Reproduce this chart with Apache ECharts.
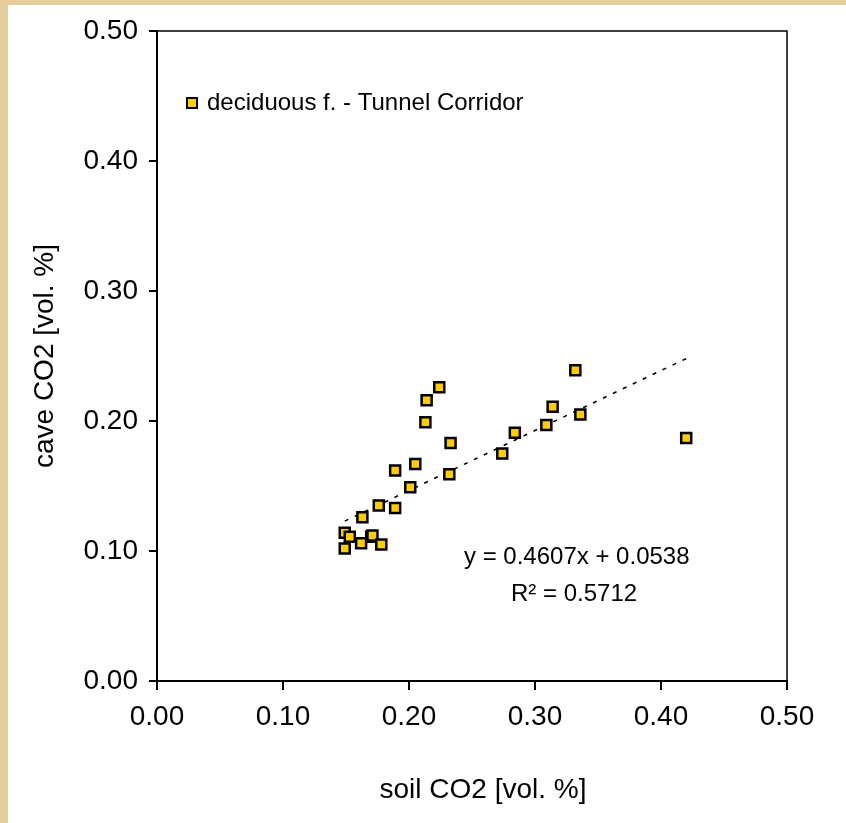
<!DOCTYPE html>
<html>
<head>
<meta charset="utf-8">
<script src="https://cdn.jsdelivr.net/npm/echarts@6/dist/echarts.min.js"></script>
<style>
  html, body { margin: 0; padding: 0; }
  body { width: 846px; height: 823px; background: #e6cd9c; position: relative; overflow: hidden; }
  #main { position: absolute; left: 8px; top: 5px; width: 838px; height: 818px; background: #ffffff; }
</style>
</head>
<body>
<div id="main"></div>
<script>
// soil CO2 vs cave CO2, vol. %
var soilCO2 = [0.149, 0.149, 0.153, 0.162, 0.170, 0.171, 0.178, 0.163, 0.176, 0.189,
               0.189, 0.201, 0.205, 0.213, 0.214, 0.224, 0.233, 0.232, 0.274, 0.284,
               0.309, 0.314, 0.336, 0.332, 0.420];
var caveCO2 = [0.102, 0.114, 0.111, 0.106, 0.111, 0.112, 0.105, 0.126, 0.135, 0.133,
               0.162, 0.149, 0.167, 0.199, 0.216, 0.226, 0.183, 0.159, 0.175, 0.191,
               0.197, 0.211, 0.205, 0.239, 0.187];
// ends of the linear trend line as drawn
var trendX = [0.149, 0.420];
var trendY = [0.123, 0.248];
var xTicks = ['0.00', '0.10', '0.20', '0.30', '0.40', '0.50'];
var yTicks = ['0.00', '0.10', '0.20', '0.30', '0.40', '0.50'];
var seriesName = 'deciduous f. - Tunnel Corridor';
var eqText = 'y = 0.4607x + 0.0538';
var r2Text = 'R² = 0.5712';

var fontFam = '"Liberation Sans", Arial, sans-serif';
var chart = echarts.init(document.getElementById('main'));

var pts = soilCO2.map(function (x, i) { return [x, caveCO2[i]]; });
var trend = trendX.map(function (x, i) { return [x, trendY[i]]; });

var option = {
    animation: false,
    grid: {
        left: 149, right: 59, top: 26, bottom: 142,
        show: true,
        borderColor: '#000',
        borderWidth: 1.5,
        backgroundColor: '#fff'
    },
    legend: {
        data: [seriesName],
        left: 173, top: 81,
        icon: 'rect',
        itemWidth: 10, itemHeight: 10,
        itemGap: 6,
        textStyle: { fontSize: 24, fontFamily: fontFam, color: '#000', padding: [0, 0, 0, 5] }
    },
    xAxis: {
        type: 'value',
        min: 0, max: 0.5, interval: 0.1,
        name: 'soil CO2 [vol. %]',
        nameLocation: 'middle',
        nameGap: 95,
        nameTextStyle: { fontSize: 28, fontFamily: fontFam, color: '#000', padding: [0, 0, 0, 22] },
        axisLine: { show: true, onZero: false, lineStyle: { color: '#000', width: 2 } },
        axisTick: { show: true, inside: false, length: 9, lineStyle: { color: '#000', width: 2 } },
        axisLabel: {
            margin: 22, fontSize: 28, fontFamily: fontFam, color: '#000',
            formatter: function (v) { return xTicks[Math.round(v * 10)]; }
        },
        splitLine: { show: false }
    },
    yAxis: {
        type: 'value',
        min: 0, max: 0.5, interval: 0.1,
        name: 'cave CO2 [vol. %]',
        nameLocation: 'middle',
        nameGap: 98,
        nameRotate: 90,
        nameTextStyle: { fontSize: 28, fontFamily: fontFam, color: '#000' },
        axisLine: { show: true, onZero: false, lineStyle: { color: '#000', width: 2 } },
        axisTick: { show: true, inside: false, length: 8, lineStyle: { color: '#000', width: 2 } },
        axisLabel: {
            margin: 19, fontSize: 28, fontFamily: fontFam, color: '#000',
            formatter: function (v) { return yTicks[Math.round(v * 10)]; }
        },
        splitLine: { show: false }
    },
    series: [
        {
            name: 'trend',
            type: 'line',
            data: trend,
            symbol: 'none',
            silent: true,
            lineStyle: { color: '#000', width: 1.6, type: [4, 7] },
            z: 1
        },
        {
            name: seriesName,
            type: 'scatter',
            data: pts,
            symbol: 'rect',
            symbolSize: 10,
            itemStyle: { color: '#ffcc00', borderColor: '#000', borderWidth: 2.5, opacity: 1 },
            z: 2
        }
    ],
    graphic: [
        {
            type: 'text', left: 456, top: 540, z: 10,
            style: { text: eqText, font: '24px "Liberation Sans", Arial, sans-serif', fill: '#000' }
        },
        {
            type: 'text', left: 503, top: 577, z: 10,
            style: { text: r2Text, font: '24px "Liberation Sans", Arial, sans-serif', fill: '#000' }
        }
    ]
};
chart.setOption(option);
</script>
</body>
</html>
